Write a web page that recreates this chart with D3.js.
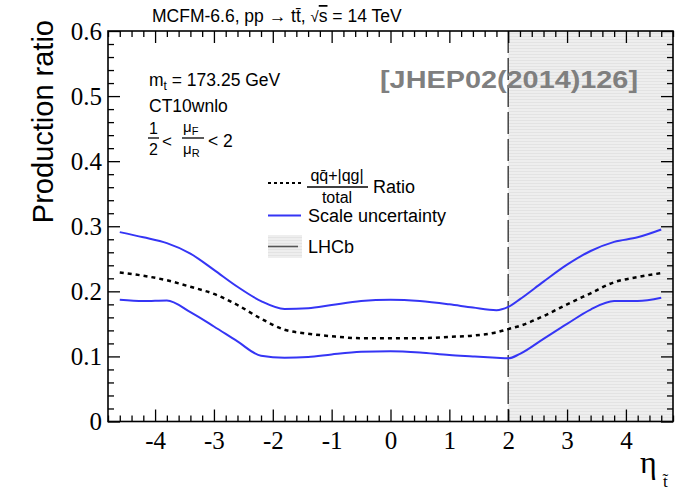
<!DOCTYPE html>
<html>
<head>
<meta charset="utf-8">
<script src="https://cdn.jsdelivr.net/npm/d3@7"></script>
<style>
body{margin:0;background:#fff}
text{font-family:"Liberation Sans",Arial,sans-serif}
.serif{font-family:"Liberation Serif","Times New Roman",serif}
</style>
</head>
<body>
<div id="chart"></div>
<script>
// values
var eta = [-4.6,-4.2,-3.8,-3.4,-3.0,-2.6,-2.2,-1.8,-1.4,-1.0,-0.5,0,0.5,1.0,1.4,1.8,2.0,2.2,2.6,3.0,3.4,3.8,4.2,4.6]
var upper = [0.291,0.283,0.274,0.258,0.233,0.207,0.185,0.173,0.174,0.179,0.185,0.187,0.185,0.180,0.175,0.171,0.176,0.188,0.215,0.241,0.262,0.276,0.283,0.295]
var ratio = [0.229,0.224,0.217,0.207,0.196,0.179,0.158,0.141,0.135,0.131,0.128,0.128,0.128,0.130,0.132,0.137,0.142,0.147,0.162,0.180,0.197,0.214,0.222,0.228]
var lower = [0.187,0.185,0.186,0.168,0.146,0.123,0.101,0.098,0.099,0.103,0.107,0.108,0.106,0.102,0.100,0.098,0.097,0.104,0.127,0.150,0.172,0.185,0.185,0.190]
var xTicks = [-4,-3,-2,-1,0,1,2,3,4]
var yTicks = [0,0.1,0.2,0.3,0.4,0.5,0.6]
var lhcbStart = 2

var w = 692, h = 493
var padL = 108, padR = 673, padT = 31, padB = 421.5

var svg = d3.select("#chart").append("svg").attr("width",w).attr("height",h)

var x = d3.scaleLinear().domain([-4.8,4.8]).range([padL,padR])
var y = d3.scaleLinear().domain([0,0.6]).range([padB,padT])

// shaded LHCb region
var defs = svg.append("defs")
var pat = defs.append("pattern").attr("id","dots").attr("width",3).attr("height",3).attr("patternUnits","userSpaceOnUse")
pat.append("rect").attr("width",3).attr("height",3).attr("fill","#eeeeee")
pat.append("rect").attr("width",3).attr("height",1).attr("fill","#e3e3e3")

svg.append("rect")
	.attr("x",x(lhcbStart)).attr("y",padT)
	.attr("width",x(4.8)-x(lhcbStart)).attr("height",padB-padT)
	.attr("fill","url(#dots)")

svg.append("line")
	.attr("x1",x(lhcbStart)).attr("x2",x(lhcbStart))
	.attr("y1",padT).attr("y2",padB)
	.attr("stroke","#444").attr("stroke-width",1.5)
	.attr("stroke-dasharray","22,5")

// curves
var line = d3.line().curve(d3.curveMonotoneX)
	.x(function(d){return x(d[0])})
	.y(function(d){return y(d[1])})

function pts(arr){ return eta.map(function(e,i){return [e,arr[i]]}) }

svg.append("path").attr("d",line(pts(upper))).attr("fill","none").attr("stroke","#3535f5").attr("stroke-width",2)
svg.append("path").attr("d",line(pts(lower))).attr("fill","none").attr("stroke","#3535f5").attr("stroke-width",2)
svg.append("path").attr("d",line(pts(ratio))).attr("fill","none").attr("stroke","#000").attr("stroke-width",2.5).attr("stroke-dasharray","4,4")

// axes (ROOT style, ticks inside)
var xMinor = d3.range(-24,25).map(function(i){return i/5}).filter(function(v){return Math.abs(v-Math.round(v))>1e-6})
var yMinor = d3.range(0,31).map(function(i){return i/50}).filter(function(v){return Math.abs(v*10-Math.round(v*10))>1e-6})

function styleAxis(g){
	g.select(".domain").remove()
	g.selectAll(".tick line").attr("stroke","#000").attr("stroke-width",1.3)
}

var fmt = function(d){return d==0 ? "0" : String(+d.toFixed(1))}

svg.append("g").attr("transform","translate(0,"+padB+")")
	.call(d3.axisBottom(x).tickValues(xTicks).tickSize(-12).tickPadding(10).tickFormat(fmt))
	.call(styleAxis)
	.selectAll("text").attr("class","serif").attr("font-size",25).attr("fill","#000")
svg.append("g").attr("transform","translate(0,"+padB+")")
	.call(d3.axisBottom(x).tickValues(xMinor).tickSize(-6).tickFormat(""))
	.call(styleAxis)
svg.append("g").attr("transform","translate(0,"+padT+")")
	.call(d3.axisTop(x).tickValues(xTicks).tickSize(-12).tickFormat(""))
	.call(styleAxis)
svg.append("g").attr("transform","translate(0,"+padT+")")
	.call(d3.axisTop(x).tickValues(xMinor).tickSize(-6).tickFormat(""))
	.call(styleAxis)

svg.append("g").attr("transform","translate("+padL+",0)")
	.call(d3.axisLeft(y).tickValues(yTicks).tickSize(-12).tickPadding(6).tickFormat(fmt))
	.call(styleAxis)
	.selectAll("text").attr("class","serif").attr("font-size",25).attr("fill","#000")
svg.append("g").attr("transform","translate("+padL+",0)")
	.call(d3.axisLeft(y).tickValues(yMinor).tickSize(-6).tickFormat(""))
	.call(styleAxis)
svg.append("g").attr("transform","translate("+padR+",0)")
	.call(d3.axisRight(y).tickValues(yTicks).tickSize(-12).tickFormat(""))
	.call(styleAxis)
svg.append("g").attr("transform","translate("+padR+",0)")
	.call(d3.axisRight(y).tickValues(yMinor).tickSize(-6).tickFormat(""))
	.call(styleAxis)

svg.append("rect").attr("x",padL).attr("y",padT).attr("width",padR-padL).attr("height",padB-padT)
	.attr("fill","none").attr("stroke","#000").attr("stroke-width",1.6)

// axis titles
svg.append("text").attr("transform","translate(53,20) rotate(-90)")
	.attr("text-anchor","end").attr("font-size",29).text("Production ratio")

svg.append("text").attr("class","serif").attr("x",640).attr("y",473).attr("font-size",32).text("η")
svg.append("text").attr("class","serif").attr("x",663).attr("y",487).attr("font-size",17).text("t̃")

// title
var title = svg.append("text").attr("x",152).attr("y",22).attr("font-size",17.5)
title.append("tspan").text("MCFM-6.6, pp → tt̄, ")
title.append("tspan").text("√").attr("font-size",15)
title.append("tspan").attr("text-decoration","overline").text("s")
title.append("tspan").text(" = 14 TeV")

// info block
var mt = svg.append("text").attr("x",149).attr("y",86).attr("font-size",17.5)
mt.append("tspan").text("m")
mt.append("tspan").attr("font-size",12).attr("dy",4).text("t")
mt.append("tspan").attr("dy",-4).text(" = 173.25 GeV")
svg.append("text").attr("x",149).attr("y",112).attr("font-size",17.5).text("CT10wnlo")

svg.append("text").attr("x",149).attr("y",134).attr("font-size",16).text("1")
svg.append("line").attr("x1",148).attr("x2",159).attr("y1",138).attr("y2",138).attr("stroke","#000").attr("stroke-width",1.3)
svg.append("text").attr("x",149).attr("y",155).attr("font-size",16).text("2")
svg.append("text").attr("x",162).attr("y",147).attr("font-size",17).text("<")
var nf = svg.append("text").attr("x",183).attr("y",132).attr("font-size",15)
nf.append("tspan").text("μ")
nf.append("tspan").attr("font-size",11).attr("dy",3).text("F")
svg.append("line").attr("x1",182).attr("x2",204).attr("y1",138).attr("y2",138).attr("stroke","#000").attr("stroke-width",1.3)
var nr = svg.append("text").attr("x",183).attr("y",154).attr("font-size",15)
nr.append("tspan").text("μ")
nr.append("tspan").attr("font-size",11).attr("dy",3).text("R")
svg.append("text").attr("x",208).attr("y",147).attr("font-size",17.5).text("< 2")

// watermark
svg.append("text").attr("x",380).attr("y",88).attr("font-size",24).attr("font-weight","bold")
	.attr("textLength",258).attr("lengthAdjust","spacingAndGlyphs")
	.attr("fill","#7f7f7f").text("[JHEP02(2014)126]")

// legend
svg.append("line").attr("x1",268).attr("x2",301).attr("y1",183).attr("y2",183)
	.attr("stroke","#000").attr("stroke-width",2).attr("stroke-dasharray","3,3")
svg.append("text").attr("x",337).attr("y",181).attr("text-anchor","middle").attr("font-size",16).text("qq̄+|qg|")
svg.append("line").attr("x1",307).attr("x2",368).attr("y1",187).attr("y2",187).attr("stroke","#000").attr("stroke-width",1.3)
svg.append("text").attr("x",337).attr("y",203).attr("text-anchor","middle").attr("font-size",16).text("total")
svg.append("text").attr("x",373).attr("y",193).attr("font-size",18).text("Ratio")

svg.append("line").attr("x1",268).attr("x2",301).attr("y1",215.5).attr("y2",215.5)
	.attr("stroke","#3535f5").attr("stroke-width",2)
svg.append("text").attr("x",308).attr("y",222).attr("font-size",18).text("Scale uncertainty")

svg.append("rect").attr("x",268).attr("y",235).attr("width",34).attr("height",23).attr("fill","url(#dots)")
svg.append("line").attr("x1",268).attr("x2",298).attr("y1",246.5).attr("y2",246.5)
	.attr("stroke","#555").attr("stroke-width",1.6)
svg.append("text").attr("x",308).attr("y",253).attr("font-size",18).text("LHCb")
</script>
</body>
</html>
